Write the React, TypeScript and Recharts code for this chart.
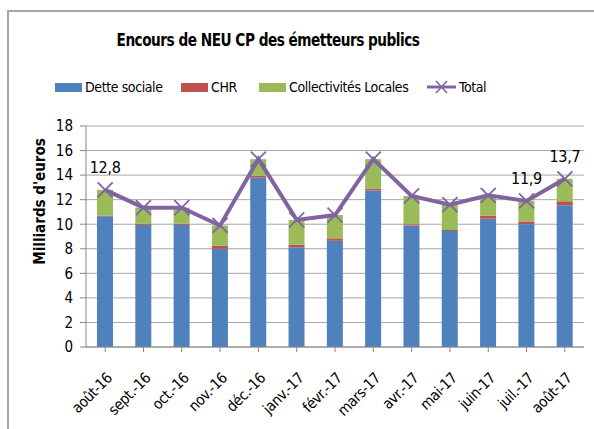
import React from 'react';
import { ComposedChart, Bar, Line, XAxis, YAxis, CartesianGrid, LabelList } from 'recharts';

const months = ['août-16', 'sept.-16', 'oct.-16', 'nov.-16', 'déc.-16', 'janv.-17', 'févr.-17', 'mars-17', 'avr.-17', 'mai-17', 'juin-17', 'juil.-17', 'août-17'];
const detteSociale = [10.65, 9.95, 9.95, 8.0, 13.8, 8.13, 8.65, 12.75, 9.9, 9.45, 10.45, 10.0, 11.55];
const chr = [0.05, 0.1, 0.1, 0.25, 0.15, 0.2, 0.2, 0.13, 0.1, 0.08, 0.25, 0.23, 0.32];
const collectivites = [2.1, 1.3, 1.3, 1.65, 1.35, 2.02, 1.9, 2.42, 2.3, 2.07, 1.65, 1.67, 1.83];
const total = [12.8, 11.35, 11.35, 9.9, 15.3, 10.35, 10.75, 15.3, 12.3, 11.6, 12.35, 11.9, 13.7];
const labelledMonths = ['août-16', 'juil.-17', 'août-17'];
const yTicks = [0, 2, 4, 6, 8, 10, 12, 14, 16, 18];

const data = months.map((m, i) => ({
  month: m,
  dette: detteSociale[i],
  chr: chr[i],
  coll: collectivites[i],
  total: total[i],
}));

const FONT = "'DejaVu Sans Condensed', 'Liberation Sans', sans-serif";
const BLUE = '#4f81bd';
const RED = '#c0504d';
const GREEN = '#9bbb59';
const PURPLE = '#8064a2';

// X marker like Excel
const CrossDot = (props: any) => {
  const { cx, cy } = props;
  if (cx == null || cy == null) return null;
  const r = 7.5;
  return (
    <g>
      <line x1={cx - r} y1={cy - r} x2={cx + r} y2={cy + r} stroke={PURPLE} strokeWidth={1.8} />
      <line x1={cx - r} y1={cy + r} x2={cx + r} y2={cy - r} stroke={PURPLE} strokeWidth={1.8} />
    </g>
  );
};

const MonthTick = (props: any) => {
  const { x, y, payload } = props;
  return (
    <g transform={`translate(${x + 8},${y + 25})`}>
      <text textAnchor="end" transform="rotate(-45)" fontSize={15} letterSpacing={-0.4} fill="#000" fontFamily={FONT}>
        {payload.value}
      </text>
    </g>
  );
};

const TotalLabel = (props: any) => {
  const { x, y, value, index } = props;
  if (!labelledMonths.includes(months[index])) return null;
  return (
    <text x={x} y={y - 17} textAnchor="middle" fontSize={16} letterSpacing={-0.3} fill="#000" fontFamily={FONT}>
      {String(value).replace('.', ',')}
    </text>
  );
};

const YTitle = (props: any) => {
  const { viewBox } = props;
  const cx = viewBox.x + 40;
  const cy = viewBox.y + viewBox.height / 2 - 35;
  return (
    <text x={cx} y={cy} transform={`rotate(-90, ${cx}, ${cy})`} textAnchor="middle" dominantBaseline="central"
      fontSize={15} fontWeight="bold" fill="#000" fontFamily={FONT}>
      Milliards d'euros
    </text>
  );
};

const legendItems = [
  { name: 'Dette sociale', color: BLUE, type: 'bar', left: 55 },
  { name: 'CHR', color: RED, type: 'bar', left: 181 },
  { name: 'Collectivités Locales', color: GREEN, type: 'bar', left: 259 },
  { name: 'Total', color: PURPLE, type: 'line', left: 427 },
];

export default function App() {
  return (
    <div style={{ position: 'absolute', left: 0, top: 0, width: 594, height: 429, background: '#fff', overflow: 'hidden', fontFamily: FONT }}>
      <div style={{ position: 'absolute', left: 7, top: 10, width: 600, height: 430, borderLeft: '2px solid #a6a6a6', borderTop: '2px solid #a6a6a6', boxSizing: 'border-box' }} />
      <div style={{ position: 'absolute', left: 0, width: 536, top: 29, textAlign: 'center', fontSize: 18.5, letterSpacing: -0.6, fontWeight: 'bold', color: '#000', transform: 'scaleX(0.82)', transformOrigin: '268px 0' }}>
        Encours de NEU CP des émetteurs publics
      </div>
      {legendItems.map((it) => (
        <div key={it.name} style={{ position: 'absolute', left: it.left, top: 79, display: 'flex', alignItems: 'center', fontSize: 14, letterSpacing: -0.4, color: '#000' }}>
          {it.type === 'bar' ? (
            <div style={{ width: 27, height: 9, background: it.color, marginRight: 3 }} />
          ) : (
            <svg width={29} height={16} style={{ marginRight: 3 }}>
              <line x1={0} y1={8} x2={29} y2={8} stroke={it.color} strokeWidth={3} />
              <line x1={9} y1={2} x2={20} y2={14} stroke={it.color} strokeWidth={1.5} />
              <line x1={9} y1={14} x2={20} y2={2} stroke={it.color} strokeWidth={1.5} />
            </svg>
          )}
          <span>{it.name}</span>
        </div>
      ))}
      <div style={{ position: 'absolute', left: 0, top: 0 }}>
        <ComposedChart width={594} height={429} data={data} margin={{ top: 126, right: 10, bottom: 0, left: 0 }}>
          <CartesianGrid vertical={false} stroke="#a6a6a6" strokeWidth={1} />
          <XAxis dataKey="month" height={82} interval={0} tick={<MonthTick />} tickLine={{ stroke: '#868686' }}
            axisLine={{ stroke: '#868686' }} tickSize={5} />
          <YAxis domain={[0, 18]} ticks={yTicks} width={86} tickSize={6} tickMargin={7}
            tick={{ fontSize: 15, fill: '#000', fontFamily: FONT }} tickLine={{ stroke: '#868686' }}
            axisLine={{ stroke: '#868686' }} label={<YTitle />} />
          <Bar dataKey="dette" stackId="a" fill={BLUE} barSize={16} isAnimationActive={false} />
          <Bar dataKey="chr" stackId="a" fill={RED} barSize={16} isAnimationActive={false} />
          <Bar dataKey="coll" stackId="a" fill={GREEN} barSize={16} isAnimationActive={false} />
          <Line dataKey="total" stroke={PURPLE} strokeWidth={4} dot={<CrossDot />} activeDot={false} isAnimationActive={false}>
            <LabelList dataKey="total" content={<TotalLabel />} />
          </Line>
        </ComposedChart>
      </div>
    </div>
  );
}
